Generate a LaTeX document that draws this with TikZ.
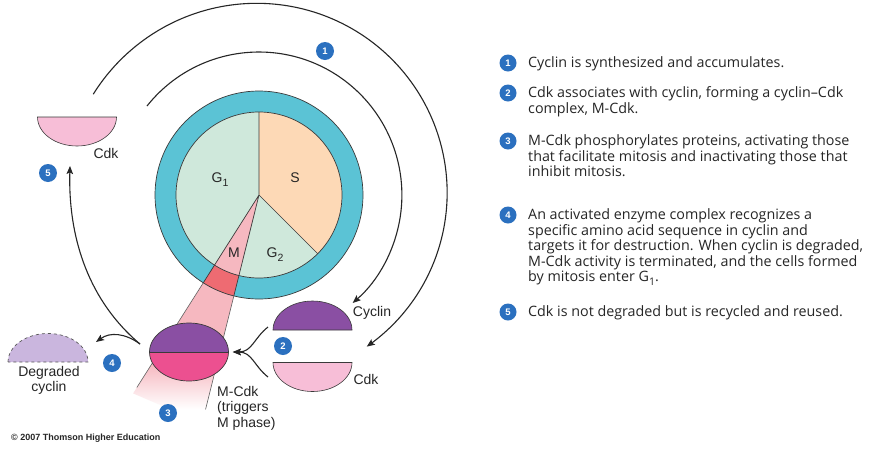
\documentclass[tikz,border=0pt]{standalone}
\usepackage{fontspec}
\setmainfont{Liberation Sans}
\newfontfamily\bodyfont{Open Sans}
\usetikzlibrary{arrows.meta,shapes.geometric}
\definecolor{ringc}{HTML}{5BC3D5}
\definecolor{gc}{HTML}{CFE8DB}
\definecolor{sc}{HTML}{FDD9B6}
\definecolor{mpink}{HTML}{F6B8C0}
\definecolor{mring}{HTML}{EE6B72}
\definecolor{purp}{HTML}{8A4FA3}
\definecolor{mag}{HTML}{EC5090}
\definecolor{cdkpink}{HTML}{F7BED7}
\definecolor{degr}{HTML}{CAB6DE}
\definecolor{bblue}{HTML}{2B70BF}
\definecolor{outl}{HTML}{3A3A3A}
\pgfdeclareverticalshading{conefade}{100bp}{color(0bp)=(white); color(28bp)=(white); color(38bp)=(mpink); color(100bp)=(mpink)}
\newcommand\lowsub[1]{\raisebox{-0.3em}{\fontsize{10.5}{10.5}\selectfont #1}}
\begin{document}
\begin{tikzpicture}[x=1pt,y=-1pt,
  outline/.style={draw=outl, line width=0.7pt},
  conn/.style={draw=black!85, line width=1.1pt, -{Stealth[length=8pt,width=6.5pt,inset=1.5pt]}},
  badge/.style={circle, fill=bblue, text=white, font=\fontsize{9.5}{9.5}\selectfont\bfseries, inner sep=0pt, minimum size=18pt},
  tbadge/.style={badge, minimum size=17pt},
  lbl/.style={font=\fontsize{14}{15.5}\selectfont, inner sep=0pt, text=black!85},
  body/.style={font=\bodyfont\fontsize{14.3}{15.5}\selectfont, inner sep=0pt, align=left, anchor=base west, text=black!85},
  half/.style={draw=outl, line width=0.6pt}
]
\useasboundingbox (0,0) rectangle (871,472);
\fill[white] (0,0) rectangle (871,472);

% ---------- cell-cycle pie ----------
\coordinate (c) at (259,195);
\begin{scope}[shift={(259,195)}]
  \path[shading=conefade] (0,0) -- (122.4:235) -- (104:235) -- cycle;
  \fill[ringc, even odd rule] (0,0) circle[radius=104] (0,0) circle[radius=83];
  \fill[mring] (104:83) arc[start angle=104, end angle=122.4, radius=83] -- (122.4:104) arc[start angle=122.4, end angle=104, radius=104] -- cycle;
  \fill[gc] (0,0) -- (122.4:83) arc[start angle=122.4, end angle=270, radius=83] -- cycle;
  \fill[sc] (0,0) -- (-90:83) arc[start angle=-90, end angle=45, radius=83] -- cycle;
  \fill[gc] (0,0) -- (45:83) arc[start angle=45, end angle=104, radius=83] -- cycle;
  \fill[mpink] (0,0) -- (104:83) arc[start angle=104, end angle=122.4, radius=83] -- cycle;
  \draw[outline] (0,0) circle[radius=83] (0,0) circle[radius=104];
  \draw[outline] (0,0) -- (-90:83) (0,0) -- (45:83) (0,0) -- (104:104) (0,0) -- (122.4:104);
  \draw[draw=outl!80, line width=0.6pt] (104:104) -- (104:221) (122.4:104) -- (122.4:228);
\end{scope}
\node[lbl] (g1) at (220,180) {G\lowsub{1}};
\node[lbl] (s) at (295,178) {S};
\node[lbl] (m) at (234,253) {M};
\node[lbl] (g2) at (275,255) {G\lowsub{2}};

% ---------- molecules ----------
\filldraw[half, fill=cdkpink] (37.5,117) arc[start angle=180, end angle=0, x radius=39.5, y radius=29] -- cycle;
\coordinate (cdkA) at (77,130);
\filldraw[half, fill=purp] (273,330) arc[start angle=180, end angle=360, x radius=39.5, y radius=29] -- cycle;
\coordinate (cyclin) at (312.5,318);
\filldraw[half, fill=cdkpink] (273,362.5) arc[start angle=180, end angle=0, x radius=39.5, y radius=29] -- cycle;
\coordinate (cdkB) at (312.5,375);
\filldraw[draw=outl!85, line width=0.7pt, dashed, fill=degr] (8,362) arc[start angle=180, end angle=360, x radius=40, y radius=28.5] -- cycle;
\coordinate (degcyc) at (48,350);

\fill[purp] (149.5,352) arc[start angle=180, end angle=360, x radius=39.5, y radius=29] -- cycle;
\fill[mag] (149.5,352) arc[start angle=180, end angle=0, x radius=39.5, y radius=29] -- cycle;
\node[ellipse, draw=outl, line width=0.7pt, minimum width=79pt, minimum height=58pt, inner sep=0pt] (mcdk) at (189,352) {};
\draw[outline] (mcdk.west) -- (mcdk.east);

% ---------- labels ----------
\node[lbl] (lcdkA) at (106,153) {Cdk};
\node[lbl] (lcyc) at (372,313) {Cyclin};
\node[lbl] (lcdkB) at (366,379) {Cdk};
\node[lbl, align=center] (ldeg) at (49,380.5) {Degraded\\cyclin};
\node[lbl, align=left, anchor=base west] (lmcdk) at (217,427) {M-Cdk\\(triggers\\M phase)};
\node[font=\fontsize{9}{9}\selectfont\bfseries, inner sep=0pt, anchor=west, text=black!85] (copy) at (11,438) {\char"00A9{} 2007 Thomson Higher Education};

% ---------- badges in diagram ----------
\node[badge] (d1) at (325,51) {1};
\node[badge] (d5) at (48,173) {5};
\node[badge] (d2) at (283,346) {2};
\node[badge] (d4) at (112,363) {4};
\node[badge] (d3) at (168,413) {3};

% ---------- connectors ----------
\coordinate (inS) at (147,106);
\coordinate (outS) at (93,99);
\draw[conn] (inS) arc[start angle=-141.5, end angle=49, radius=143];
\draw[conn] plot[domain=-148.7:54.6, samples=90, smooth] ({259+(194-8*(\x+148.7)/203.3)*cos(\x)}, {195+(194-8*(\x+148.7)/203.3)*sin(\x)});
\coordinate (j) at (140,344);
\coordinate (cdk5) at (70,166);
\coordinate (deg4) at (96,342);
\draw[conn] (j) .. controls (90,302) and (68,240) .. (cdk5);
\draw[conn] (j) .. controls (125,333) and (110,332) .. (deg4);
\coordinate (br1) at (268,327);
\coordinate (br2) at (268,377);
\draw[conn] (br1) .. controls (254,338) and (252,352) .. ([xshift=4pt]mcdk.east);
\draw[conn] (br2) .. controls (254,366) and (252,352) .. ([xshift=4pt]mcdk.east);

% ---------- text column (base = last line) ----------
\node[tbadge] (b1) at (508,63) {1};
\node[body] (t1) at (528,67.5) {Cyclin is synthesized and accumulates.};
\node[tbadge] (b2) at (508,93) {2};
\node[body] (t2) at (528,113) {Cdk associates with cyclin, forming a cyclin\textendash Cdk\\complex, M-Cdk.};
\node[tbadge] (b3) at (508,141) {3};
\node[body] (t3) at (528,176.5) {M-Cdk phosphorylates proteins, activating those\\that facilitate mitosis and inactivating those that\\inhibit mitosis.};
\node[tbadge] (b4) at (508,215) {4};
\node[body] (t4) at (528,281.5) {An activated enzyme complex recognizes a\\specific amino acid sequence in cyclin and\\targets it for destruction. When cyclin is degraded,\\M-Cdk activity is terminated, and the cells formed\\by mitosis enter G\lowsub{1}.};
\node[tbadge] (b5) at (508,312) {5};
\node[body] (t5) at (528,316.5) {Cdk is not degraded but is recycled and reused.};
\end{tikzpicture}
\end{document}
